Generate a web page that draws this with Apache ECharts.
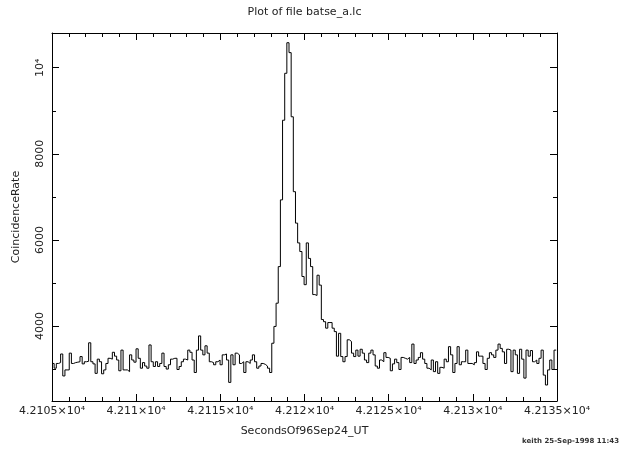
<!DOCTYPE html>
<html>
<head>
<meta charset="utf-8">
<script src="https://cdn.jsdelivr.net/npm/echarts@6/dist/echarts.min.js"></script>
<style>
html,body{margin:0;padding:0;background:#fff;}
#chart{width:621px;height:449px;}
</style>
</head>
<body>
<div id="chart"></div>
<script>
// ---- data (light curve, 0.128 s bins) ----
const tStart = 42105.0;
const binSize = 0.128;
const preBurst = [3130,3020,3130,3150,3350,2840,2980,2980,3370,3130,3150,3160,3170,3290,3120,3170,3180,3610,3170,3120,
  2900,3230,3170,2890,2980,3130,3250,3230,3390,3300,3210,2960,3440,2980,2980,2940,3330,3210,3160,3470,
  3250,3020,3150,3070,3020,3560,3170,3060,3170,3060,3130,3370,3060,3000,3100,3230,3250,3250,2990,3060,
  3170,3230,3210,3440,3390,3210,2920,3440,3770,3440,3330,3540,3370,3170,3150,3100,3170,3210,3100,3330,
  3350,3210,2690,3330,3100,3370,3330,3130,3170,2920,3170,3130,3210,3330,3170,3020,3070,3130,3110,3070,
  3020,2920];
const burst = [3600,3990,4530,5380,6930,8780,9870,10580,10350,8860,7120,6390,5930,5730,5150,4960,5930,5570,5380,4730,
  4710,5180,4950,4150,4100,3950,4080,4080,3950,3870,3300,3830,3290,3170,3290,3680,3640,3370,3290,3440,
  3300,3460,3370,3210,3150,3370];
const postBurst = [3440,3330,3070,3020,3210,3170,3380,3270,3250,2960,3120,3230,3150,2990,3270,3250,3230,3270,3150,3580,
  3130,3210,3270,3380,3230,3130,3020,2980,3210,2940,3170,2900,3040,3020,3230,3170,3520,3330,2920,3130,
  3520,3100,3170,3170,3440,3130,3130,3100,3150,3400,3300,3300,3130,2990,3250,3380,3330,3270,3440,3580,
  3480,3400,3130,3460,3440,2940,3440,3330,2900,3460,3230,2790,3440,3300,3430,3170,3210,3130,3250,3440,
  2860,2630,2980,3210,2990,3440];
const xTicks = [42105, 42110, 42115, 42120, 42125, 42130, 42135];
const yMajorTicks = [4000, 6000, 8000, 10000];
const yMinorTicks = [3000, 5000, 7000, 9000];
const titleText = 'Plot of file batse_a.lc';
const xName = 'SecondsOf96Sep24_UT';
const yName = 'CoincidenceRate';
const footText = 'keith 25-Sep-1998 11:43';

// ---- build series ----
const rates = preBurst.concat(burst, postBurst);
const seriesData = rates.map((v, i) => [tStart + i * binSize, v]);
seriesData.push([tStart + rates.length * binSize, rates[rates.length - 1]]);

const FONT = 'DejaVu Sans';
const TXT = '#222';
const X_MIN = xTicks[0], X_MAX = xTicks[xTicks.length - 1];
const Y_MIN = 2258, Y_MAX = 10806;

function xFmt(v) {
  const m = (v / 1e4).toFixed(5).replace(/0+$/, '');
  return m + '×10⁴';
}
function yFmt(v) {
  return v === 10000 ? '10⁴' : String(v);
}

const chart = echarts.init(document.getElementById('chart'), null, {renderer: 'canvas'});
const baseX = {
  type: 'value', min: X_MIN, max: X_MAX, interval: 5,
  splitLine: {show: false},
  axisLine: {show: true, onZero: false, lineStyle: {color: '#000', width: 1}},
  axisTick: {show: true, inside: true, length: 7, lineStyle: {color: '#000'}},
  minorTick: {show: true, splitNumber: 5, length: 4, lineStyle: {color: '#000'}},
};
const yBase = {
  type: 'value', min: Y_MIN, max: Y_MAX,
  splitLine: {show: false},
};
chart.setOption({
  animation: false,
  backgroundColor: '#fff',
  grid: {left: 52, right: 64, top: 33, bottom: 48, containLabel: false},
  xAxis: [
    Object.assign({}, baseX, {
      position: 'bottom',
      name: xName, nameLocation: 'middle', nameGap: 25,
      nameTextStyle: {fontFamily: FONT, fontSize: 11, color: TXT},
      axisLabel: {show: true, margin: 5, fontFamily: FONT, fontSize: 11, color: TXT, formatter: xFmt,
        showMinLabel: true, showMaxLabel: true, hideOverlap: false}
    }),
    Object.assign({}, baseX, {position: 'top', axisLabel: {show: false}})
  ],
  yAxis: [
    Object.assign({}, yBase, {
      position: 'left',
      name: yName, nameLocation: 'middle', nameGap: 30, nameRotate: 90,
      nameTextStyle: {fontFamily: FONT, fontSize: 11, color: TXT},
      axisLine: {show: true, onZero: false, lineStyle: {color: '#000', width: 1}},
      axisTick: {show: true, inside: true, length: 7, customValues: yMajorTicks, lineStyle: {color: '#000'}},
      axisLabel: {show: true, rotate: 90, margin: 6, customValues: yMajorTicks, formatter: yFmt,
        fontFamily: FONT, fontSize: 11, color: TXT}
    }),
    Object.assign({}, yBase, {
      position: 'left',
      axisLine: {show: false},
      axisTick: {show: true, inside: true, length: 4, customValues: yMinorTicks, lineStyle: {color: '#000'}},
      axisLabel: {show: false}
    }),
    Object.assign({}, yBase, {
      position: 'right',
      axisLine: {show: true, onZero: false, lineStyle: {color: '#000', width: 1}},
      axisTick: {show: true, inside: true, length: 7, customValues: yMajorTicks, lineStyle: {color: '#000'}},
      axisLabel: {show: false}
    }),
    Object.assign({}, yBase, {
      position: 'right',
      axisLine: {show: false},
      axisTick: {show: true, inside: true, length: 4, customValues: yMinorTicks, lineStyle: {color: '#000'}},
      axisLabel: {show: false}
    })
  ],
  graphic: [
    {type: 'text', x: 304.5, y: 12, style: {text: titleText, fontFamily: FONT, fontSize: 11, fill: TXT,
      textAlign: 'center', textVerticalAlign: 'middle'}},
    {type: 'text', x: 619, y: 441, style: {text: footText, fontFamily: FONT, fontSize: 7, fontWeight: 'bold', fill: '#333',
      textAlign: 'right', textVerticalAlign: 'middle'}}
  ],
  series: [{
    type: 'line',
    data: seriesData,
    xAxisIndex: 0, yAxisIndex: 0,
    step: 'end',
    showSymbol: false,
    symbol: 'none',
    clip: true,
    lineStyle: {color: '#000', width: 1},
    emphasis: {disabled: true}
  }]
});
</script>
</body>
</html>
